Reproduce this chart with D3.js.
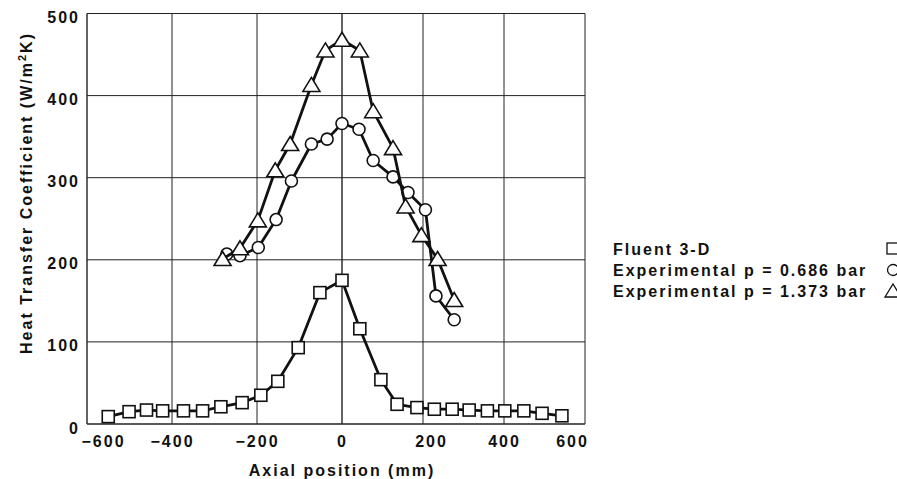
<!DOCTYPE html>
<html>
<head>
<meta charset="utf-8">
<script src="https://cdn.jsdelivr.net/npm/d3@7"></script>
<style>
  html, body { margin: 0; padding: 0; background: #fff; }
  svg { display: block; }
  text { font-family: "Liberation Sans", Arial, sans-serif; font-weight: bold; fill: #111; letter-spacing: 2px; }
</style>
</head>
<body>
<svg id="chart" width="897" height="479"></svg>
<script>
// ---- data ----
const xTicks = [-600, -400, -200, 0, 200, 400, 600];
const yTicks = [0, 100, 200, 300, 400, 500];

const fluentX = [-550, -501, -460, -422, -373, -328, -285, -235, -191, -151, -103, -52, 0, 44, 96, 136, 185, 228, 272, 314, 359, 402, 449, 494, 543];
const fluentY = [9, 15, 17, 16, 16, 16, 21, 26, 35, 52, 93, 160, 175, 116, 54, 24, 20, 18, 18, 17, 16, 16, 16, 13, 10];

const exp0686X = [-271, -240, -197, -155, -119, -72, -35, 0, 42, 77, 126, 163, 206, 232, 277];
const exp0686Y = [207, 205, 215, 249, 296, 341, 347, 366, 359, 321, 301, 282, 261, 156, 127];

const exp1373X = [-281, -240, -198, -157, -122, -72, -39, 0, 44, 77, 126, 157, 196, 236, 277];
const exp1373Y = [201, 214, 248, 309, 341, 413, 455, 468, 455, 381, 336, 265, 230, 201, 151];

const legendLabels = ["Fluent 3-D", "Experimental p = 0.686 bar", "Experimental p = 1.373 bar"];
const xTitle = "Axial position (mm)";

// ---- drawing ----
const svg = d3.select("#chart");
const x = d3.scaleLinear().domain([-600, 0, 600]).range([87, 342, 585]);
const y = d3.scaleLinear().domain([0, 500]).range([424, 13.5]);

// grid
const grid = svg.append("g").attr("stroke", "#222").attr("stroke-width", 1).attr("fill", "none");
grid.selectAll("line.v").data(xTicks).join("line")
  .attr("x1", d => x(d)).attr("x2", d => x(d))
  .attr("y1", y(0)).attr("y2", y(500))
  .attr("stroke-width", d => (d === 0 || d === -600) ? 1.4 : 1);
grid.selectAll("line.h").data(yTicks).join("line")
  .attr("x1", x(-600)).attr("x2", x(600))
  .attr("y1", d => y(d)).attr("y2", d => y(d))
  .attr("stroke-width", d => (d === 0) ? 1.4 : 1);

// axes labels via d3 axes (domain/ticks hidden, only labels)
const tickNudge = { "-600": 16, "200": 8, "600": -13 };
const xAxis = svg.append("g").attr("transform", `translate(0,${y(0)})`)
  .call(d3.axisBottom(x).tickValues(xTicks).tickSize(0).tickPadding(0).tickFormat(d3.format("d")));
xAxis.select(".domain").remove();
xAxis.selectAll("text")
  .attr("y", 23).attr("dy", 0)
  .attr("dx", d => tickNudge[String(d)] || 0)
  .style("font-size", "16px").style("font-family", "Liberation Sans, Arial, sans-serif")
  .style("font-weight", "bold").attr("fill", "#111");

const yAxis = svg.append("g").attr("transform", `translate(${x(-600)},0)`)
  .call(d3.axisLeft(y).tickValues(yTicks).tickSize(0).tickPadding(7).tickFormat(d3.format("d")));
yAxis.select(".domain").remove();
yAxis.selectAll("text")
  .attr("dy", "0.75em").attr("y", -3)
  .style("font-size", "16px").style("font-family", "Liberation Sans, Arial, sans-serif")
  .style("font-weight", "bold").attr("fill", "#111");

// axis titles
svg.append("text").attr("x", 342).attr("y", 476).attr("text-anchor", "middle")
  .style("font-size", "16px").text(xTitle);

const yt = svg.append("text").attr("transform", "translate(32,193) rotate(-90)")
  .attr("text-anchor", "middle").style("font-size", "16px");
yt.append("tspan").text("Heat Transfer Coefficient (W/m");
yt.append("tspan").attr("dy", -6).style("font-size", "11px").text("2");
yt.append("tspan").attr("dy", 6).text("K)");

// series
const line = d3.line().x(d => x(d[0])).y(d => y(d[1]));
const zip = (a, b) => a.map((v, i) => [v, b[i]]);
const sFluent = zip(fluentX, fluentY);
const sC = zip(exp0686X, exp0686Y);
const sT = zip(exp1373X, exp1373Y);

const triPath = "M0,-7.5L8.5,6.5L-8.5,6.5Z";

function drawSeries(data, kind) {
  svg.append("path").datum(data).attr("d", line)
    .attr("fill", "none").attr("stroke", "#111").attr("stroke-width", 2.8).attr("stroke-linejoin", "round");
  const g = svg.append("g").attr("fill", "#fff").attr("stroke", "#111").attr("stroke-width", 1.6);
  if (kind === "square") {
    g.selectAll("rect").data(data).join("rect")
      .attr("x", d => x(d[0]) - 6).attr("y", d => y(d[1]) - 6)
      .attr("width", 12).attr("height", 12);
  } else if (kind === "circle") {
    g.selectAll("circle").data(data).join("circle")
      .attr("cx", d => x(d[0])).attr("cy", d => y(d[1])).attr("r", 6);
  } else {
    g.selectAll("path").data(data).join("path")
      .attr("transform", d => `translate(${x(d[0])},${y(d[1])})`).attr("d", triPath);
  }
}
drawSeries(sC, "circle");
drawSeries(sT, "triangle");
drawSeries(sFluent, "square");

// legend
const legY = [255, 276, 297];
const lg = svg.append("g");
lg.selectAll("text").data(legendLabels).join("text")
  .attr("x", 613).attr("y", (d, i) => legY[i]).style("font-size", "16px").text(d => d);
const mk = svg.append("g").attr("fill", "#fff").attr("stroke", "#111").attr("stroke-width", 1.3);
mk.append("rect").attr("x", 887).attr("y", legY[0] - 12).attr("width", 11).attr("height", 11);
mk.append("circle").attr("cx", 893).attr("cy", legY[1] - 6).attr("r", 5.5);
mk.append("path").attr("transform", `translate(893,${legY[2] - 6})`).attr("d", "M0,-7L8,6L-8,6Z");
</script>
</body>
</html>
